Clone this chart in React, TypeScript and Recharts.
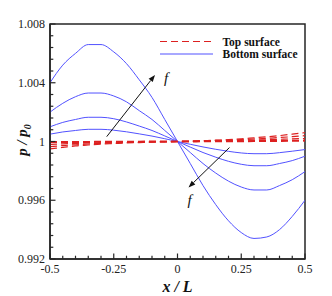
import React from 'react'
import {
  LineChart,
  Line,
  XAxis,
  YAxis,
  ReferenceArea,
  ReferenceLine,
} from 'recharts'

// x/L stations
const xs = [
  -0.5, -0.45, -0.4, -0.35, -0.3, -0.25, -0.2, -0.15, -0.1, -0.05, 0,
  0.05, 0.1, 0.15, 0.2, 0.25, 0.3, 0.35, 0.4, 0.45, 0.5,
]

// bottom surface, p/p0 (smallest f -> largest f)
const bottom1 = [1.0005, 1.00065, 1.00075, 1.00083, 1.00083, 1.00077, 1.00066, 1.00052, 1.00037, 1.00019, 1.0, 0.99981, 0.99963, 0.99947, 0.99933, 0.99922, 0.99917, 0.99917, 0.99924, 0.99934, 0.99945]
const bottom2 = [1.001, 1.0013, 1.0015, 1.00165, 1.00165, 1.00155, 1.00133, 1.00105, 1.00075, 1.00038, 1.0, 0.99962, 0.99925, 0.99893, 0.99865, 0.99845, 0.99835, 0.99835, 0.9985, 0.9987, 0.999]
const bottom3 = [1.002, 1.0026, 1.00305, 1.0033, 1.0033, 1.0031, 1.0027, 1.0021, 1.0015, 1.00075, 1.0, 0.99925, 0.9985, 0.99785, 0.9973, 0.9969, 0.9967, 0.9967, 0.997, 0.9974, 0.99795]
const bottom4 = [1.004, 1.0052, 1.006, 1.0066, 1.0066, 1.0061, 1.0053, 1.0042, 1.003, 1.0015, 1.0, 0.9985, 0.997, 0.9957, 0.9946, 0.9938, 0.9934, 0.9935, 0.994, 0.9949, 0.996]

// top surface, p/p0
const top1 = [0.99996, 0.99996, 0.99997, 0.99997, 0.99998, 0.99998, 0.99999, 0.99999, 1.0, 1.0, 1.0, 1.0, 1.00001, 1.00001, 1.00002, 1.00002, 1.00003, 1.00003, 1.00004, 1.00005, 1.00006]
const top2 = [0.9998, 0.99984, 0.99987, 0.9999, 0.99992, 0.99994, 0.99996, 0.99997, 0.99998, 0.99999, 1.0, 1.00001, 1.00003, 1.00004, 1.00006, 1.00008, 1.0001, 1.00012, 1.00015, 1.00018, 1.0002]
const top3 = [0.99965, 0.99972, 0.99978, 0.99983, 0.99987, 0.9999, 0.99993, 0.99995, 0.99997, 0.99999, 1.0, 1.00002, 1.00004, 1.00007, 1.0001, 1.00013, 1.00017, 1.00022, 1.00027, 1.00033, 1.0004]
const top4 = [0.9995, 0.9996, 0.9997, 0.99976, 0.99982, 0.99986, 0.9999, 0.99993, 0.99996, 0.99998, 1.0, 1.00002, 1.00005, 1.00009, 1.00013, 1.00018, 1.00025, 1.00032, 1.0004, 1.0005, 1.0006]

// ticks
const xMajor = [-0.5, -0.25, 0, 0.25, 0.5]
const xMajorLabels = ['-0.5', '-0.25', '0', '0.25', '0.5']
const xTicks = [
  -0.5, -0.45, -0.4, -0.35, -0.3, -0.25, -0.2, -0.15, -0.1, -0.05, 0,
  0.05, 0.1, 0.15, 0.2, 0.25, 0.3, 0.35, 0.4, 0.45, 0.5,
]
const yMajor = [0.992, 0.996, 1, 1.004, 1.008]
const yMajorLabels = ['0.992', '0.996', '1', '1.004', '1.008']
const yTicks = [
  0.992, 0.9928, 0.9936, 0.9944, 0.9952, 0.996, 0.9968, 0.9976, 0.9984, 0.9992, 1,
  1.0008, 1.0016, 1.0024, 1.0032, 1.004, 1.0048, 1.0056, 1.0064, 1.0072, 1.008,
]

const SERIF = 'Liberation Serif, Times New Roman, serif'
const BLUE = '#5252ff'
const RED = '#dd2020'
const AXIS = '#262626'

const bottomSeries = [bottom1, bottom2, bottom3, bottom4]
const topSeries = [top1, top2, top3, top4]

const data = xs.map((x, i) => {
  const row: Record<string, number> = { x }
  bottomSeries.forEach((s, k) => (row['b' + k] = s[i]))
  topSeries.forEach((s, k) => (row['t' + k] = s[i]))
  return row
})

const findLabel = (v: number, majors: number[], labels: string[]) => {
  const idx = majors.findIndex((m) => Math.abs(m - v) < 1e-7)
  return idx >= 0 ? labels[idx] : null
}

const serif = (extra: React.CSSProperties = {}) => ({ fontFamily: SERIF, ...extra })

// ticks point inward, majors are longer
const XTick = (props: any) => {
  const { x, y, payload } = props
  const label = findLabel(payload.value, xMajor, xMajorLabels)
  const len = label ? 5.5 : 3.3
  return (
    <g>
      <line x1={x} y1={y} x2={x} y2={y - len} stroke={AXIS} strokeWidth={1.2} />
      {label && (
        <text x={x} y={y + 14} textAnchor="middle" fill="#222" style={serif({ fontSize: 12 })}>
          {label}
        </text>
      )}
    </g>
  )
}

const YTick = (props: any) => {
  const { x, y, payload } = props
  const label = findLabel(payload.value, yMajor, yMajorLabels)
  const len = label ? 5.5 : 3.3
  return (
    <g>
      <line x1={x} y1={y} x2={x + len} y2={y} stroke={AXIS} strokeWidth={1.2} />
      {label && (
        <text x={x - 5} y={y + 4} textAnchor="end" fill="#222" style={serif({ fontSize: 12 })}>
          {label}
        </text>
      )}
    </g>
  )
}

// arrow with an italic "f" next to its head
const arrowShape = (dx: number, dy: number) => (props: any) => {
  const { x1, y1, x2, y2 } = props
  const a = Math.atan2(y2 - y1, x2 - x1)
  const L = 7
  const W = 2.6
  const bx = x2 - L * Math.cos(a)
  const by = y2 - L * Math.sin(a)
  const pts = [
    [x2, y2],
    [bx + W * Math.sin(a), by - W * Math.cos(a)],
    [bx - W * Math.sin(a), by + W * Math.cos(a)],
  ]
    .map((p) => p.join(','))
    .join(' ')
  return (
    <g>
      <line x1={x1} y1={y1} x2={bx} y2={by} stroke="#111" strokeWidth={1} />
      <polygon points={pts} fill="#111" />
      <text x={x2 + dx} y={y2 + dy} fill="#111" style={serif({ fontSize: 15, fontStyle: 'italic' })}>
        f
      </text>
    </g>
  )
}

const LegendBox = () => (
  <svg width={150} height={30} style={{ position: 'absolute', left: 155, top: 31 }}>
    <line x1={5} y1={10.5} x2={58} y2={10.5} stroke={RED} strokeWidth={1.1} strokeDasharray="7 4" />
    <line x1={5} y1={23} x2={58} y2={23} stroke={BLUE} strokeWidth={1.1} />
    <text x={67.5} y={14.5} fill="#111" style={serif({ fontSize: 11.5, fontWeight: 'bold' })}>
      Top surface
    </text>
    <text x={67.5} y={27} fill="#111" style={serif({ fontSize: 11.5, fontWeight: 'bold' })}>
      Bottom surface
    </text>
  </svg>
)

const YTitle = () => (
  <text
    transform="translate(27,140) rotate(-90)"
    textAnchor="middle"
    fill="#111"
    style={serif({ fontSize: 15, fontWeight: 'bold', fontStyle: 'italic' })}
  >
    p / p
    <tspan fontSize={10} dy={4}>0</tspan>
  </text>
)

const XTitle = () => (
  <text
    x={177.5}
    y={292}
    textAnchor="middle"
    fill="#111"
    style={serif({ fontSize: 16, fontWeight: 'bold', fontStyle: 'italic' })}
  >
    x / L
  </text>
)

export default function App() {
  return (
    <div style={{ width: 332, height: 296, position: 'relative', background: '#fff' }}>
      <style>{`body{margin:0}`}</style>
      <LineChart
        width={332}
        height={296}
        data={data}
        margin={{ top: 24, right: 27, bottom: 0, left: 0 }}
      >
        <XAxis
          dataKey="x"
          type="number"
          domain={[-0.5, 0.5]}
          ticks={xTicks}
          interval={0}
          tickSize={0}
          tickMargin={0}
          tickLine={false}
          axisLine={{ stroke: AXIS, strokeWidth: 1.5 }}
          tick={XTick}
          height={37}
          label={{ content: XTitle }}
          allowDataOverflow
        />
        <YAxis
          type="number"
          domain={[0.992, 1.008]}
          ticks={yTicks}
          interval={0}
          tickSize={0}
          tickMargin={0}
          tickLine={false}
          axisLine={{ stroke: AXIS, strokeWidth: 1.5 }}
          tick={YTick}
          width={50}
          label={{ content: YTitle }}
          allowDataOverflow
        />
        <ReferenceArea
          x1={-0.5}
          x2={0.5}
          y1={0.992}
          y2={1.008}
          fill="none"
          fillOpacity={0}
          stroke={AXIS}
          strokeWidth={1.5}
        />
        {bottomSeries.map((_, k) => (
          <Line
            key={'b' + k}
            dataKey={'b' + k}
            type="monotone"
            stroke={BLUE}
            strokeWidth={1}
            dot={false}
            isAnimationActive={false}
          />
        ))}
        {topSeries.map((_, k) => (
          <Line
            key={'t' + k}
            dataKey={'t' + k}
            type="monotone"
            stroke={RED}
            strokeWidth={k === 0 ? 2 : 1.2}
            strokeDasharray="7 4"
            dot={false}
            isAnimationActive={false}
          />
        ))}
        <ReferenceLine
          segment={[
            { x: -0.2776, y: 1.00033 },
            { x: -0.0882, y: 1.00453 },
          ]}
          shape={arrowShape(9, 8)}
        />
        <ReferenceLine
          segment={[
            { x: 0.2039, y: 0.99959 },
            { x: 0.0431, y: 0.99687 },
          ]}
          shape={arrowShape(-1, 18)}
        />
      </LineChart>
      <LegendBox />
    </div>
  )
}
